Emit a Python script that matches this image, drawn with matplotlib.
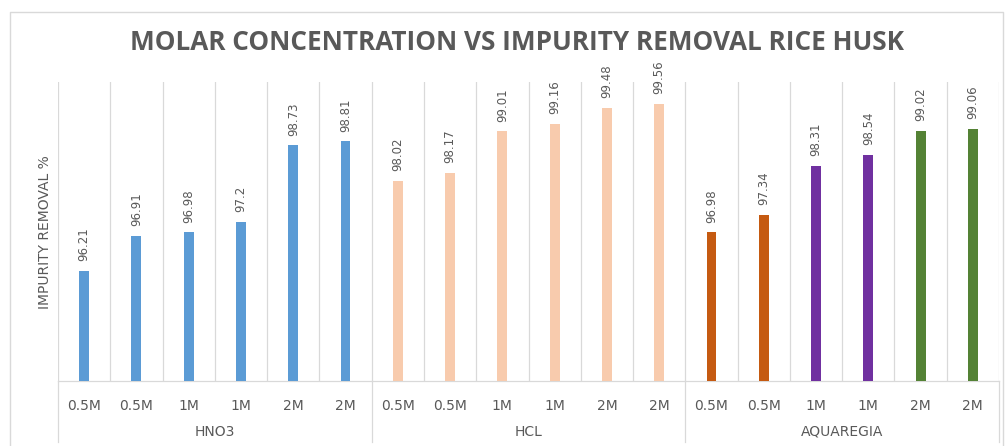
import matplotlib
matplotlib.use("Agg")
import matplotlib.pyplot as plt
from matplotlib.lines import Line2D
from matplotlib.transforms import blended_transform_factory

# ---- data ----
groups = ["HNO3", "HCL", "AQUAREGIA"]
concentrations = ["0.5M", "0.5M", "1M", "1M", "2M", "2M"]
hno3_values = [96.21, 96.91, 96.98, 97.2, 98.73, 98.81]
hcl_values = [98.02, 98.17, 99.01, 99.16, 99.48, 99.56]
aquaregia_values = [96.98, 97.34, 98.31, 98.54, 99.02, 99.06]

hno3_colors = ["#5B9BD5"] * 6
hcl_colors = ["#F8CBAD"] * 6
aquaregia_colors = ["#C55A11", "#C55A11", "#7030A0", "#7030A0", "#548235", "#548235"]

title = "MOLAR CONCENTRATION VS IMPURITY REMOVAL RICE HUSK"
ylabel = "IMPURITY REMOVAL %"

values = hno3_values + hcl_values + aquaregia_values
colors = hno3_colors + hcl_colors + aquaregia_colors
ticklabels = concentrations * 3
n = len(values)
xs = list(range(n))

W, H = 1007, 446
fig = plt.figure(figsize=(W / 100, H / 100), dpi=100)
ax = fig.add_axes([58 / W, (H - 381) / H, (999 - 58) / W, (381 - 82) / H])

grid_c = "#D9D9D9"
text_c = "#595959"

ax.bar(xs, values, width=0.19, color=colors, zorder=3)
ax.set_ylim(94, 100)
ax.set_xlim(-0.5, n - 0.5)

for x, v in zip(xs, values):
    ax.annotate(f"{v:g}", (x, v), xytext=(0, 7), textcoords="offset points",
                rotation=90, ha="center", va="bottom", fontsize=8.5, color=text_c)

# vertical separators
for b in range(n + 1):
    ax.axvline(b - 0.5, color=grid_c, lw=0.9, zorder=1)

# group separators extending below the axis
tr = blended_transform_factory(ax.transData, fig.transFigure)
for g in range(len(groups) + 1):
    fig.add_artist(Line2D([g * 6 - 0.5] * 2, [(H - 381) / H, (H - 442) / H],
                          transform=tr, color=grid_c, lw=0.9))

for s in ["top", "right", "left"]:
    ax.spines[s].set_visible(False)
ax.spines["bottom"].set_color(grid_c)
ax.spines["bottom"].set_linewidth(0.9)
ax.set_yticks([])
ax.set_xticks(xs)
ax.set_xticklabels(ticklabels, fontsize=10, color=text_c)
ax.tick_params(axis="x", length=0, pad=13)

trans = ax.get_xaxis_transform()
for g, name in enumerate(groups):
    ax.text(g * 6 + 2.5, -0.17, name, transform=trans, ha="center", va="center",
            fontsize=10, color=text_c)

fig.text(45 / W, 1 - 232 / H, ylabel, rotation=90, ha="center", va="center",
         fontsize=10, color=text_c)
fig.text(517 / W, 1 - 43 / H, title, ha="center", va="center", fontsize=18.8,
         fontweight="bold", color=text_c, family=["Open Sans", "DejaVu Sans"])

# outer chart frame (bottom edge is outside the picture)
x0, x1, y1 = 10 / W, 1003 / W, 1 - 12 / H
fig.add_artist(Line2D([x0, x0, x1, x1], [0, y1, y1, 0], transform=fig.transFigure,
                      color=grid_c, lw=1))

fig.savefig("out.png", dpi=100)
